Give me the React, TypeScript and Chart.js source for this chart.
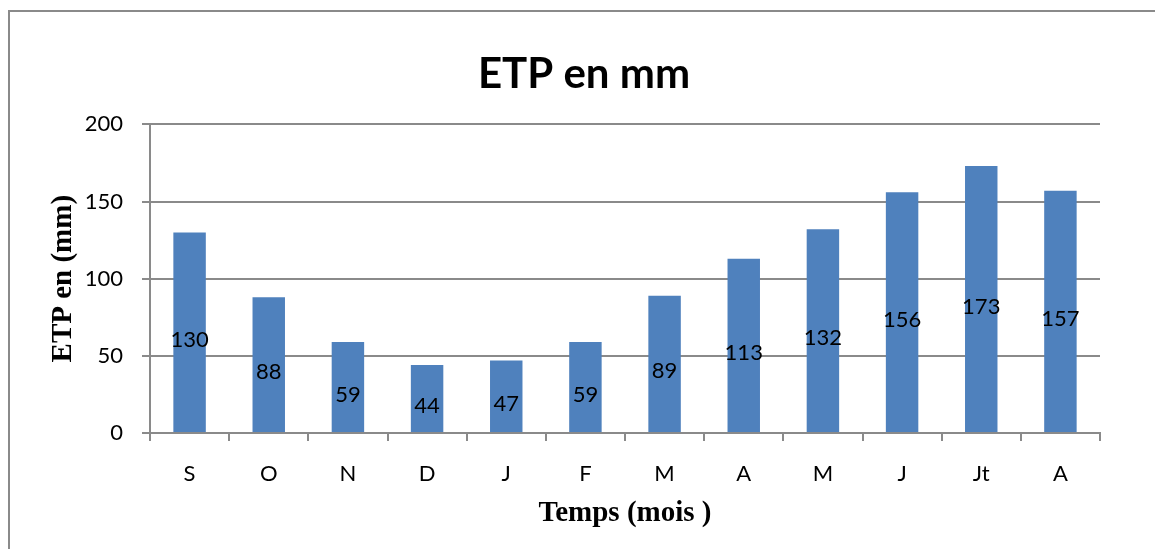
import React, { useEffect, useRef } from "react";
import { Chart, registerables } from "chart.js";

Chart.register(...registerables);

const categories = ["S", "O", "N", "D", "J", "F", "M", "A", "M", "J", "Jt", "A"];
const etpValues = [130, 88, 59, 44, 47, 59, 89, 113, 132, 156, 173, 157];
const chartTitle = "ETP en mm";
const xTitle = "Temps (mois )";
const yTitle = "ETP en (mm)";

const W = 1155;
const H = 549;
const GRID = "#8a8a8a";
const BAR = "#4F81BD";

const dataLabels = {
  id: "dataLabels",
  afterDatasetsDraw(chart: any) {
    const ctx = chart.ctx;
    const meta = chart.getDatasetMeta(0);
    const yScale = chart.scales.y;
    ctx.save();
    ctx.font = "22px Lato";
    ctx.fillStyle = "#000";
    ctx.textAlign = "center";
    ctx.textBaseline = "middle";
    meta.data.forEach((bar: any, i: number) => {
      const v = etpValues[i];
      const yMid = yScale.getPixelForValue(v / 2);
      ctx.fillText(String(v), bar.x, yMid + 7);
    });
    ctx.restore();
  },
};

export default function App() {
  const ref = useRef<HTMLCanvasElement | null>(null);
  useEffect(() => {
    let chart: Chart | null = null;
    let cancelled = false;
    const make = () => {
      if (cancelled || !ref.current) return;
      chart = new Chart(ref.current, {
        type: "bar",
        data: {
          labels: categories,
          datasets: [
            {
              label: "ETP",
              data: etpValues,
              backgroundColor: BAR,
              borderWidth: 0,
              barPercentage: 0.41,
              categoryPercentage: 1,
            },
          ],
        },
        options: {
          responsive: false,
          animation: false,
          devicePixelRatio: 1,
          layout: { padding: { left: 68, right: 55, top: 0, bottom: 0 } },
          plugins: {
            legend: { display: false },
            tooltip: { enabled: false },
            title: {
              display: true,
              text: chartTitle,
              color: "#000",
              font: { family: "Lato", size: 42, weight: "bold", lineHeight: 1.2 },
              padding: { top: 49, bottom: 25 },
            },
          },
          scales: {
            x: {
              grid: {
                offset: true,
                drawOnChartArea: false,
                drawTicks: true,
                tickLength: 8,
                color: GRID,
                lineWidth: 2,
              },
              border: { display: true, color: GRID, width: 2 },
              ticks: {
                color: "#000",
                font: { family: "Lato", size: 22 },
                padding: 20,
                maxRotation: 0,
                autoSkip: false,
              },
              title: {
                display: true,
                text: xTitle,
                color: "#000",
                font: { family: "Liberation Serif", size: 29, weight: "bold", lineHeight: 1.2 },
                padding: { top: 0, bottom: 18 },
              },
              afterFit(scale: any) {
                scale.height = 116;
              },
            },
            y: {
              min: 0,
              max: 200,
              ticks: {
                stepSize: 50,
                color: "#000",
                font: { family: "Lato", size: 22 },
                padding: 19,
              },
              grid: {
                color: GRID,
                lineWidth: 2,
                tickLength: 8,
                drawTicks: true,
              },
              border: { display: true, color: GRID, width: 2 },
              title: {
                display: true,
                text: yTitle,
                color: "#000",
                font: { family: "Liberation Serif", size: 29, weight: "bold", lineHeight: 1.2 },
                padding: { top: -22, bottom: 0 },
              },
              afterFit(scale: any) {
                scale.width = 82;
              },
            },
          },
        },
        plugins: [dataLabels],
      } as any);
    };
    const fontsReady = (document as any).fonts
      ? Promise.all([
          (document as any).fonts.load("22px Lato"),
          (document as any).fonts.load("bold 42px Lato"),
          (document as any).fonts.load("bold 29px 'Liberation Serif'"),
        ]).catch(() => null)
      : Promise.resolve(null);
    fontsReady.then(make);
    return () => {
      cancelled = true;
      if (chart) chart.destroy();
    };
  }, []);

  return (
    <div
      style={{
        position: "absolute",
        left: 0,
        top: 0,
        width: W,
        height: H,
        overflow: "hidden",
        background: "#fff",
      }}
    >
      <div
        style={{
          position: "absolute",
          left: 8,
          top: 10,
          width: W + 100,
          height: H + 100,
          border: "2px solid #8a8a8a",
          boxSizing: "border-box",
        }}
      />
      <canvas
        ref={ref}
        width={W}
        height={H}
        style={{ position: "absolute", left: 0, top: 0, width: W, height: H }}
      />
    </div>
  );
}
